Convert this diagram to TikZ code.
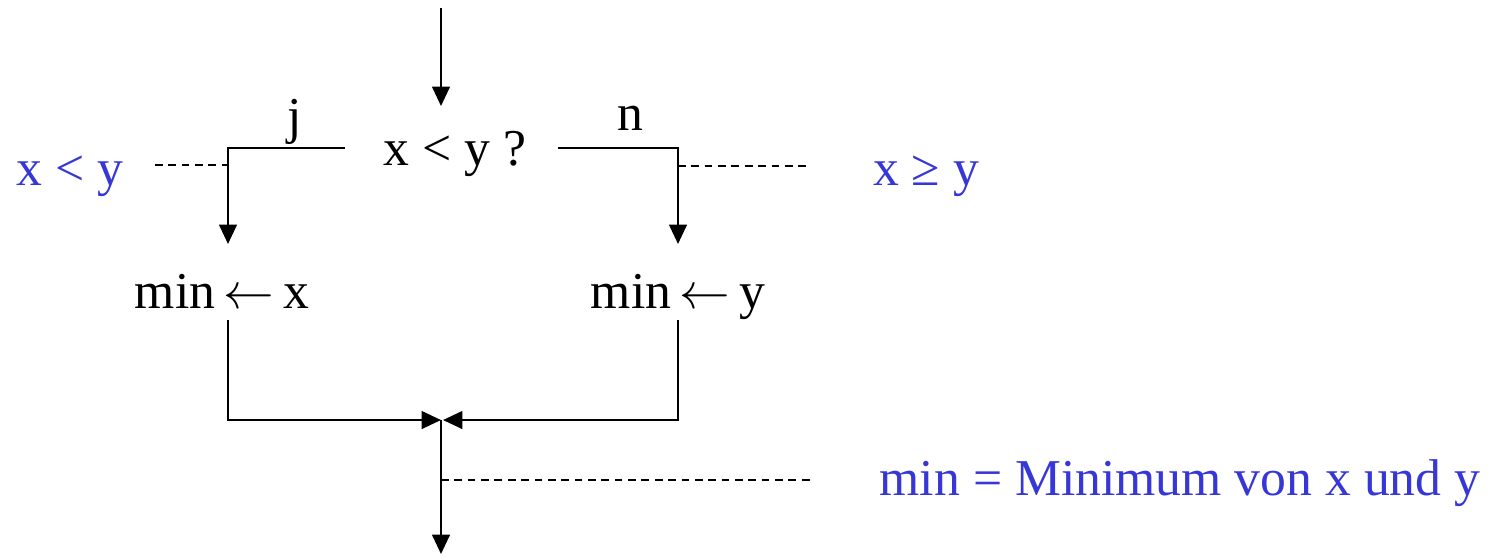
\documentclass[tikz,border=0pt]{standalone}
\usepackage{fontspec}
\setmainfont{Liberation Serif}
\usetikzlibrary{arrows.meta}
\definecolor{lblue}{RGB}{55,55,215}
\newcommand{\assignarrow}{\,\ensuremath{\leftarrow}\,}
\begin{document}
\begin{tikzpicture}[x=0.01cm,y=-0.01cm,
  txt/.style={font=\fontsize{14.7}{17}\selectfont, inner sep=0pt, anchor=base},
  note/.style={txt, text=lblue},
  flow/.style={line width=0.7pt, -{Triangle[length=5.5pt,width=5pt]}},
  hint/.style={line width=0.6pt, dash pattern=on 2.2pt off 1.6pt}]
\useasboundingbox (0,0) rectangle (1497,556);
% texts
\node[txt] (q) at (455,165) {x < y ?};
\node[txt] (j) at (295,133) {j};
\node[txt] (n) at (630,130) {n};
\node[note] (lt) at (70,185) {x < y};
\node[note] (ge) at (926,185) {x ≥ y};
\node[txt] (mx) at (222,308) {min\assignarrow x};
\node[txt] (my) at (678,308) {min\assignarrow y};
\node[note] (def) at (1180,495) {min = Minimum von x und y};
% coordinates
\coordinate (top) at (441,8);
\coordinate (qin) at (441,106);
\coordinate (jl) at (345,148);
\coordinate (jc) at (228,148);
\coordinate (jend) at (228,244);
\coordinate (nl) at (558,148);
\coordinate (nc) at (678,148);
\coordinate (nend) at (678,244);
\coordinate (ldot) at (155,165);
\coordinate (ljoin) at (228,165);
\coordinate (rjoin) at (678,166);
\coordinate (rdot) at (810,166);
\coordinate (xs) at (228,320);
\coordinate (xc) at (228,420);
\coordinate (ys) at (678,320);
\coordinate (yc) at (678,420);
\coordinate (mergeL) at (441,420);
\coordinate (mergeR) at (443,420);
\coordinate (mid) at (441,480);
\coordinate (midend) at (815,480);
\coordinate (bot) at (441,554);
% connectors
\draw[flow] (top) -- (qin);
\draw[flow] (jl) -- (jc) -- (jend);
\draw[flow] (nl) -- (nc) -- (nend);
\draw[hint] (ldot) -- (ljoin);
\draw[hint] (rjoin) -- (rdot);
\draw[flow] (xs) -- (xc) -- (mergeL);
\draw[flow] (ys) -- (yc) -- (mergeR);
\draw[flow] (mergeL) -- (bot);
\draw[hint] (mid) -- (midend);
\end{tikzpicture}
\end{document}
